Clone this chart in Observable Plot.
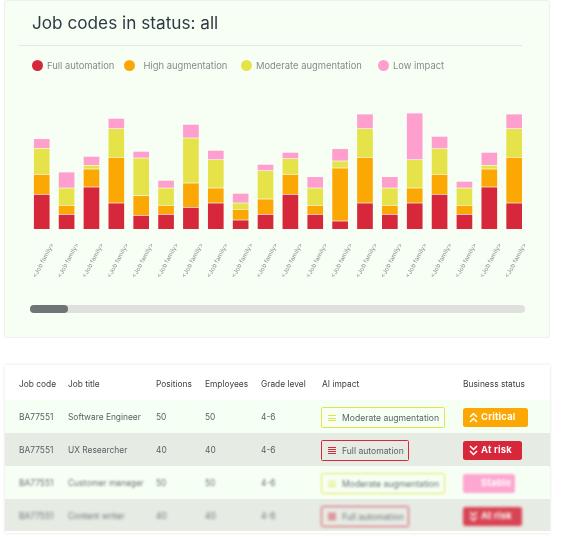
<!DOCTYPE html>
<html><head><meta charset="utf-8">
<script src="https://cdn.jsdelivr.net/npm/d3@7"></script>
<script src="https://cdn.jsdelivr.net/npm/@observablehq/plot@0.6"></script>
<style>
html,body{margin:0;padding:0;background:#fff;width:561px;height:537px;overflow:hidden;font-family:Inter,"Noto Sans",sans-serif}
.a{position:absolute;white-space:nowrap}
#panel{left:4px;top:0;width:546px;height:338px;background:#f7fff5;border:1px solid #eef1ee;border-radius:3px;box-sizing:border-box}
#title{left:32px;top:11px;font-size:17.2px;line-height:24px;color:#2c3a42;filter:blur(.25px)}
#rule{left:19px;top:45px;width:503px;height:1px;background:#e6e6e3}
.dot{width:11px;height:11px;border-radius:50%;top:60px}
.lg{top:59px;font-size:9.4px;line-height:13px;color:#858a88;filter:blur(.25px)}
#chart{left:0;top:0;filter:blur(.2px)}
#chart svg{display:block;background:transparent}
#track{left:30px;top:305px;width:495px;height:8px;border-radius:4px;background:#e0e1df}
#thumb{left:30px;top:305px;width:38px;height:8px;border-radius:4px;background:#6f7577}
#card{left:5px;top:365px;width:545px;height:168px;background:#fff;box-shadow:0 0 3px rgba(0,0,0,.12)}
.row{left:5px;width:545px;height:33px}
.h{font-size:8.4px;line-height:12px;top:378px;color:#3a4247;filter:blur(.25px)}
.c{font-size:8.4px;line-height:12px;color:#5a6265}
.imp{box-sizing:border-box;height:21px;border:1px solid;left:321px;border-radius:1.5px;background:transparent}
.imp span{position:absolute;left:20px;top:3.5px;font-size:8.6px;line-height:12px;color:#5a6265}
.imp i{position:absolute;left:6px;width:8px;height:1px}
.st{box-sizing:border-box;height:19px;left:463px;border-radius:2.5px;color:#fff;font-weight:700;font-size:9.4px;line-height:18px;padding-left:18px;letter-spacing:.2px}
.st svg{position:absolute;left:5px;top:3px}
</style></head><body>
<div class="a" id="panel"></div>
<div class="a" id="title">Job codes in status: all</div>
<div class="a" id="rule"></div>
<div id="legend"></div>
<div class="a" id="chart"></div>
<div class="a" id="track"></div><div class="a" id="thumb"></div>
<div class="a" id="card"></div>
<div id="table"></div>
<script>
const jobFamilies = Array(20).fill("<Job family>");
const impacts = ["Full automation","High augmentation","Moderate augmentation","Low impact"];
const impactColors = ["#d7273b","#fca804","#e6e34a","#ff9fce"];
const fullAutomation = [105,45,127,79,42,45,66,79,28,45,105,45,25,79,45,79,105,45,127,79];
const highAugmentation = [60,27,54,137,59,27,73,45,32,46,60,27,159,137,27,45,60,27,54,137];
const moderateAugmentation = [78,52,11,86,113,52,135,85,19,85,47,52,21,86,52,85,77,52,11,86];
const lowImpact = [29,48,27,31,20,23,41,28,29,19,19,34,37,44,34,140,37,20,39,44];
const seriesValues = [fullAutomation,highAugmentation,moderateAugmentation,lowImpact];
const legendX = [31.5,123.5,240.5,377.5];
const legendTextX = [47,143.5,256,393];

const headers = ["Job code","Job title","Positions","Employees","Grade level","AI impact","Business status"];
const jobCodes = ["BA77551","BA77551","BA77551","BA77551"];
const jobTitles = ["Software Engineer","UX Researcher","Customer manager","Content writer"];
const positions = [50,40,50,40];
const employees = [50,40,50,40];
const grades = ["4-6","4-6","4-6","4-6"];
const aiImpact = ["Moderate augmentation","Full automation","Moderate augmentation","Full automation"];
const statusLabels = ["Critical","At risk","Stable","At risk"];

const rows = seriesValues.flatMap((vals,s)=>vals.map((v,i)=>({i,impact:impacts[s],v})));
const chart = Plot.plot({
  width:561,height:340,
  marginTop:0,marginRight:0,marginBottom:0,marginLeft:0,
  style:{background:"transparent",fontFamily:"Inter,sans-serif"},
  x:{type:"band",domain:d3.range(20),range:[33.9,522],paddingInner:.37,paddingOuter:0,align:.5,round:false,axis:null},
  y:{domain:[0,480],range:[229,69],axis:null},
  color:{domain:impacts,range:impactColors},
  marks:[
    Plot.barY(rows,Plot.stackY({x:"i",y:"v",fill:"impact",order:impacts,insetTop:.7})),
    Plot.axisX({anchor:"bottom",frameAnchor:"bottom",ticks:d3.range(20),tickSize:0,tickRotate:-62,
      tickFormat:i=>jobFamilies[i],fontSize:6.2,fill:"#8b908d",dy:-108,dx:10,textAnchor:"end",label:null}),
  ]
});
document.getElementById("chart").append(chart);

const legend=document.getElementById("legend");
impacts.forEach((t,i)=>{
  legend.insertAdjacentHTML("beforeend",
   `<div class="a dot" style="left:${legendX[i]}px;background:${impactColors[i]}"></div><div class="a lg" style="left:${legendTextX[i]}px">${t}</div>`);
});

const colX=[19,68,156,205,261,322,463];
const tb=document.getElementById("table");
let html=headers.map((h,i)=>`<div class="a h" style="left:${colX[i]}px">${h}</div>`).join("");
const rowTop=[400,433,466,499], rowH=[33,33,33,32], rowBg=["#f6fff4","#e6ebe4","#f6fff4","#e6ebe4"];
const blur=[.3,.35,.8,1.8], alpha=[1,1,.9,.85];
const impColor={"Moderate augmentation":"#e6e34a","Full automation":"#d7273b"};
const impW={"Moderate augmentation":124,"Full automation":88};
const stColor={"Critical":"#fca804","At risk":"#d7273b","Stable":"#ff9fce"};
const stW={"Critical":65,"At risk":59,"Stable":52};
const chev=(up)=>`<svg width="11" height="13" viewBox="0 0 11 13" fill="none" stroke="#fff" stroke-width="1.5">${up?'<path d="M2 6l3.5-3.5L9 6M2 11l3.5-3.5L9 11"/>':'<path d="M2 2l3.5 3.5L9 2M2 7l3.5 3.5L9 7"/>'}</svg>`;
for(let r=0;r<4;r++){
  const t=rowTop[r], f=`filter:blur(${blur[r]}px);opacity:${alpha[r]}`;
  html+=`<div class="a row" style="top:${t}px;height:${rowH[r]}px;background:${rowBg[r]}"></div>`;
  const vals=[jobCodes[r],jobTitles[r],positions[r],employees[r],grades[r]];
  vals.forEach((v,i)=>{html+=`<div class="a c" style="left:${colX[i]}px;top:${t+11}px;${f}">${v}</div>`});
  const ic=impColor[aiImpact[r]];
  const barTops=aiImpact[r]==="Full automation"?[6,8,10,12]:[7,9.5,12];
  const icon=barTops.map(y=>`<i style="top:${y}px;background:${ic}"></i>`).join("");
  html+=`<div class="a imp" style="top:${t+7}px;width:${impW[aiImpact[r]]}px;border-color:${ic};${f}">${icon}<span>${aiImpact[r]}</span></div>`;
  const s=statusLabels[r];
  html+=`<div class="a st" style="top:${t+7.5}px;width:${stW[s]}px;background:${stColor[s]};${f}">${s==="Stable"?"":chev(s==="Critical")}${s}</div>`;
}
tb.innerHTML=html;
</script>
</body></html>
